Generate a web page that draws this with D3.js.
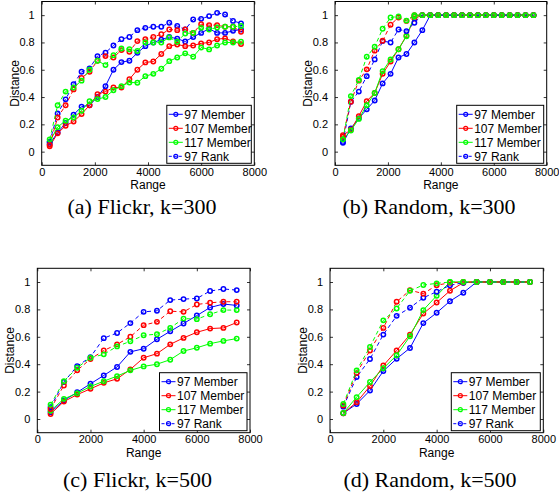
<!DOCTYPE html>
<html>
<head>
<meta charset="utf-8">
<script src="https://cdn.jsdelivr.net/npm/d3@7"></script>
<style>
  body { margin: 0; background: #fff; }
  svg { display: block; }
  .tick text { font-family: "Liberation Sans", Arial, sans-serif; font-size: 11px; fill: #000; }
  .lab, .leg text { font-family: "Liberation Sans", Arial, sans-serif; font-size: 12px; fill: #000; }
  .cap { font-family: "Liberation Serif", "Times New Roman", serif; font-size: 22px; fill: #000; }
</style>
</head>
<body>
<svg id="fig" width="559" height="494"></svg>
<script>
// x positions of the samples
const range300 = [300, 600, 900, 1200, 1500, 1800, 2100, 2400, 2700, 3000, 3300, 3600, 3900,
  4200, 4500, 4800, 5100, 5400, 5700, 6000, 6300, 6600, 6900, 7200, 7500];
const range500 = [500, 1000, 1500, 2000, 2500, 3000, 3500, 4000, 4500, 5000, 5500, 6000, 6500, 7000, 7500];

const xTicks = [0, 2000, 4000, 6000, 8000];
const yTicks = [0, 0.2, 0.4, 0.6, 0.8, 1];
const legendLabels = ["97 Member", "107 Member", "117 Member", "97 Rank"];

// (a) Flickr, k=300
const flickr300Member97 = [0.056, 0.14, 0.21, 0.27, 0.33, 0.34, 0.40, 0.48, 0.60, 0.656, 0.666, 0.724, 0.773,
  0.80, 0.82, 0.84, 0.827, 0.807, 0.84, 0.87, 0.90, 0.87, 0.87, 0.885, 0.895];
const flickr300Member107 = [0.04, 0.134, 0.19, 0.22, 0.275, 0.34, 0.42, 0.44, 0.47, 0.47, 0.53, 0.60, 0.654,
  0.66, 0.715, 0.773, 0.785, 0.773, 0.778, 0.793, 0.80, 0.824, 0.83, 0.807, 0.788];
const flickr300Member117 = [0.073, 0.18, 0.227, 0.25, 0.30, 0.37, 0.385, 0.40, 0.45, 0.48, 0.507, 0.505, 0.553,
  0.57, 0.607, 0.663, 0.69, 0.72, 0.695, 0.763, 0.749, 0.778, 0.80, 0.80, 0.805];
const flickr300Rank97 = [0.07, 0.28, 0.383, 0.495, 0.585, 0.61, 0.70, 0.725, 0.778, 0.824, 0.84, 0.89, 0.907,
  0.915, 0.915, 0.944, 0.92, 0.895, 0.968, 0.973, 0.993, 1.017, 1.005, 0.958, 0.94];
const flickr300Rank107 = [0.05, 0.25, 0.34, 0.456, 0.54, 0.585, 0.666, 0.70, 0.69, 0.744, 0.732, 0.81, 0.824,
  0.84, 0.86, 0.895, 0.89, 0.895, 0.87, 0.934, 0.927, 0.927, 0.915, 0.915, 0.878];
const flickr300Rank117 = [0.09, 0.34, 0.44, 0.47, 0.52, 0.60, 0.666, 0.634, 0.707, 0.756, 0.75, 0.737, 0.80,
  0.80, 0.80, 0.837, 0.805, 0.866, 0.87, 0.907, 0.895, 0.91, 0.915, 0.915, 0.92];

// (b) Random, k=300
const random300Member97 = [0.065, 0.17, 0.244, 0.31, 0.375, 0.50, 0.57, 0.69, 0.715, 0.80, 0.89, 1, 1,
  1, 1, 1, 1, 1, 1, 1, 1, 1, 1, 1, 1];
const random300Member107 = [0.12, 0.16, 0.26, 0.37, 0.43, 0.57, 0.66, 0.75, 0.85, 0.975, 1, 1, 1,
  1, 1, 1, 1, 1, 1, 1, 1, 1, 1, 1, 1];
const random300Member117 = [0.09, 0.155, 0.24, 0.34, 0.43, 0.59, 0.675, 0.75, 0.845, 0.99, 1, 1, 1,
  1, 1, 1, 1, 1, 1, 1, 1, 1, 1, 1, 1];
const random300Rank97 = [0.07, 0.366, 0.44, 0.553, 0.676, 0.81, 0.80, 0.895, 0.883, 0.944, 1, 1, 1,
  1, 1, 1, 1, 1, 1, 1, 1, 1, 1, 1, 1];
const random300Rank107 = [0.11, 0.366, 0.52, 0.603, 0.74, 0.812, 0.93, 0.983, 0.958, 1, 1, 1, 1,
  1, 1, 1, 1, 1, 1, 1, 1, 1, 1, 1, 1];
const random300Rank117 = [0.09, 0.407, 0.525, 0.695, 0.768, 0.90, 0.983, 0.99, 0.96, 1, 1, 1, 1,
  1, 1, 1, 1, 1, 1, 1, 1, 1, 1, 1, 1];

// (c) Flickr, k=500
const flickr500Member97 = [0.05, 0.135, 0.195, 0.257, 0.318, 0.38, 0.49, 0.513, 0.582, 0.64, 0.697, 0.755, 0.814, 0.839, 0.829];
const flickr500Member107 = [0.037, 0.127, 0.178, 0.22, 0.264, 0.293, 0.362, 0.447, 0.477, 0.545, 0.592, 0.633, 0.66, 0.665, 0.704];
const flickr500Member117 = [0.06, 0.147, 0.188, 0.237, 0.276, 0.313, 0.355, 0.384, 0.40, 0.433, 0.496, 0.52, 0.55, 0.57, 0.587];
const flickr500Rank97 = [0.086, 0.27, 0.386, 0.452, 0.59, 0.628, 0.70, 0.782, 0.79, 0.868, 0.875, 0.88, 0.934, 0.949, 0.941];
const flickr500Rank107 = [0.073, 0.245, 0.355, 0.438, 0.50, 0.545, 0.60, 0.685, 0.709, 0.787, 0.782, 0.836, 0.848, 0.856, 0.856];
const flickr500Rank117 = [0.105, 0.276, 0.374, 0.447, 0.472, 0.53, 0.567, 0.611, 0.619, 0.665, 0.733, 0.729, 0.765, 0.795, 0.795];

// (d) Random, k=500
const random500Member97 = [0.042, 0.11, 0.208, 0.35, 0.44, 0.518, 0.70, 0.775, 0.86, 0.922, 1, 1, 1, 1, 1];
const random500Member107 = [0.042, 0.122, 0.24, 0.39, 0.50, 0.616, 0.77, 0.85, 0.936, 0.995, 1, 1, 1, 1, 1];
const random500Member117 = [0.044, 0.16, 0.27, 0.37, 0.465, 0.604, 0.795, 0.90, 1, 1, 1, 1, 1, 1, 1];
const random500Rank97 = [0.09, 0.306, 0.438, 0.616, 0.753, 0.812, 0.885, 0.929, 0.976, 0.995, 1, 1, 1, 1, 1];
const random500Rank107 = [0.098, 0.335, 0.50, 0.665, 0.856, 0.94, 0.915, 0.976, 0.995, 1, 1, 1, 1, 1, 1];
const random500Rank117 = [0.11, 0.355, 0.526, 0.72, 0.807, 0.936, 0.978, 0.99, 1, 1, 1, 1, 1, 1, 1];

const BLUE = "#0000ff", RED = "#ff0000", GREEN = "#00ff00";
const seriesStyle = [
  {color: BLUE, dash: null}, {color: RED, dash: null}, {color: GREEN, dash: null},
  {color: BLUE, dash: "4,3"}, {color: RED, dash: "4,3"}, {color: GREEN, dash: "4,3"}
];

const panels = [
  {x: range300, caption: "(a) Flickr, k=300", box: [41.7, 1.5, 254.3, 165.3], capX: 142, capY: 214, legW: 84.5,
   series: [flickr300Member97, flickr300Member107, flickr300Member117, flickr300Rank97, flickr300Rank107, flickr300Rank117]},
  {x: range300, caption: "(b) Random, k=300", box: [335, 1.5, 546.7, 165.3], capX: 429, capY: 214, legW: 87,
   series: [random300Member97, random300Member107, random300Member117, random300Rank97, random300Rank107, random300Rank117]},
  {x: range500, caption: "(c) Flickr, k=500", box: [37.3, 268.3, 250, 432.7], capX: 137.5, capY: 487, legW: 87.5,
   series: [flickr500Member97, flickr500Member107, flickr500Member117, flickr500Rank97, flickr500Rank107, flickr500Rank117]},
  {x: range500, caption: "(d) Random, k=500", box: [330, 268.3, 543.3, 432.7], capX: 430, capY: 487, legW: 89,
   series: [random500Member97, random500Member107, random500Member117, random500Rank97, random500Rank107, random500Rank117]}
];

const svg = d3.select("#fig");
const yFmt = d => (d === 0 || d === 1) ? String(d) : d3.format(".1f")(d);

function drawPanel(p) {
  const [x0, y0, x1, y1] = p.box;
  const w = x1 - x0, h = y1 - y0;
  const g = svg.append("g").attr("transform", `translate(${x0},${y0})`);

  const x = d3.scaleLinear().domain([0, 8000]).range([0, w]);
  const y = d3.scaleLinear().domain([-0.1, 1.1]).range([h, 0]);

  // axes with inward ticks on all four sides
  g.append("g").attr("transform", `translate(0,${h})`)
    .call(d3.axisBottom(x).tickValues(xTicks).tickSize(-3).tickSizeOuter(0).tickPadding(3).tickFormat(d3.format("d")));
  g.append("g")
    .call(d3.axisTop(x).tickValues(xTicks).tickSize(-3).tickSizeOuter(0).tickFormat(""));
  g.append("g")
    .call(d3.axisLeft(y).tickValues(yTicks).tickSize(-3).tickSizeOuter(0).tickPadding(7).tickFormat(yFmt));
  g.append("g").attr("transform", `translate(${w},0)`)
    .call(d3.axisRight(y).tickValues(yTicks).tickSize(-3).tickSizeOuter(0).tickFormat(""));
  g.selectAll(".domain").remove();
  g.selectAll(".tick line").attr("stroke", "#000").attr("stroke-width", 0.8);
  g.selectAll(".tick text").attr("font-family", null).attr("font-size", null);

  g.append("rect").attr("width", w).attr("height", h)
    .attr("fill", "none").attr("stroke", "#000").attr("stroke-width", 1);

  const line = d3.line().x(d => x(d[0])).y(d => y(d[1]));

  p.series.forEach((vals, i) => {
    const st = seriesStyle[i];
    const pts = vals.map((v, j) => [p.x[j], v]);
    const s = g.append("g");
    s.append("path").datum(pts).attr("d", line)
      .attr("fill", "none").attr("stroke", st.color).attr("stroke-width", 1)
      .attr("stroke-dasharray", st.dash);
    s.selectAll("circle").data(pts).enter().append("circle")
      .attr("cx", d => x(d[0])).attr("cy", d => y(d[1])).attr("r", 2.2)
      .attr("fill", "none").attr("stroke", st.color).attr("stroke-width", 1.5);
  });

  // axis labels
  g.append("text").attr("class", "lab").attr("text-anchor", "middle")
    .attr("x", w / 2).attr("y", h + 24).text("Range");
  g.append("text").attr("class", "lab").attr("text-anchor", "middle")
    .attr("transform", `translate(-23,${h / 2}) rotate(-90)`).text("Distance");

  // legend
  const lw = p.legW, lh = 58;
  const leg = g.append("g").attr("class", "leg")
    .attr("transform", `translate(${w - lw - 3},${h - lh - 2})`);
  leg.append("rect").attr("width", lw).attr("height", lh)
    .attr("fill", "#fff").attr("stroke", "#000").attr("stroke-width", 1);
  legendLabels.forEach((lab, i) => {
    const st = seriesStyle[i];
    const cy = 9 + i * 14;
    leg.append("line").attr("x1", 2).attr("x2", 16).attr("y1", cy).attr("y2", cy)
      .attr("stroke", st.color).attr("stroke-width", 1).attr("stroke-dasharray", st.dash ? "3,2" : null);
    leg.append("circle").attr("cx", 9).attr("cy", cy).attr("r", 2)
      .attr("fill", "none").attr("stroke", st.color).attr("stroke-width", 1.2);
    leg.append("text").attr("x", 17.5).attr("y", cy + 4.3).text(lab);
  });

  svg.append("text").attr("class", "cap").attr("text-anchor", "middle")
    .attr("x", p.capX).attr("y", p.capY).text(p.caption);
}

panels.forEach(drawPanel);
</script>
</body>
</html>
